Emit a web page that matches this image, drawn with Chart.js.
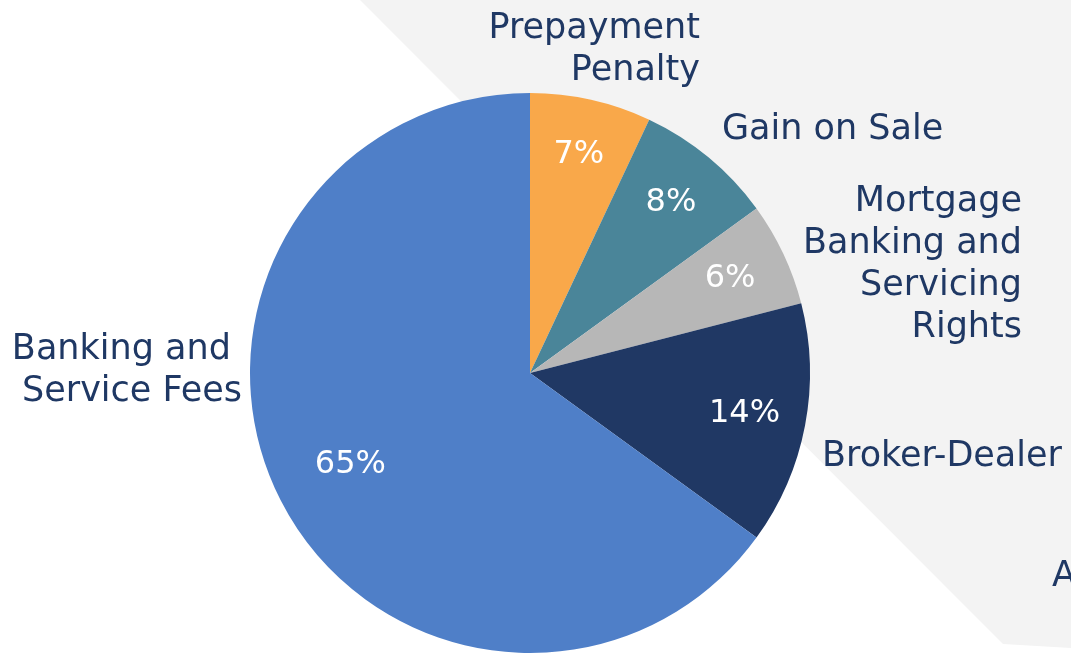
<!DOCTYPE html>
<html>
<head>
<meta charset="utf-8">
<title>Non-Interest Income Mix</title>
<script src="https://cdn.jsdelivr.net/npm/chart.js@4.4.1/dist/chart.umd.min.js"></script>
<style>
  html, body { margin: 0; padding: 0; background: #ffffff; }
  #wrap { position: relative; width: 1071px; height: 653px; }
  canvas { display: block; }
</style>
</head>
<body>
<div id="wrap"><canvas id="pie" width="1071" height="653"></canvas></div>
<script>
// Income sources, clockwise from 12 o'clock
const categories = [
  'Prepayment Penalty',
  'Gain on Sale',
  'Mortgage Banking and Servicing Rights',
  'Broker-Dealer',
  'Banking and Service Fees'
];
const shares = [7, 8, 6, 14, 65];
const sliceColors = ['#F9A84A', '#4A8599', '#B7B7B7', '#203864', '#4F7FC8'];

// Outer caption lines for each slice
const captionLines = [
  ['Prepayment', 'Penalty'],
  ['Gain on Sale'],
  ['Mortgage', 'Banking and', 'Servicing', 'Rights'],
  ['Broker-Dealer'],
  ['Banking and ', 'Service Fees']
];
// Caption anchor (x, first-line centre y) and alignment
const captionAnchor = [
  { x: 700, y: 29, align: 'right' },
  { x: 722, y: 130, align: 'left' },
  { x: 1022, y: 202, align: 'right' },
  { x: 822, y: 457, align: 'left' },
  { x: 242, y: 350, align: 'right' }
];
// Radial position of the percentage inside each slice (fraction of radius)
const valueRadius = [0.80, 0.79, 0.79, 0.78, 0.72];

const FONT = '"DejaVu Sans", Verdana, sans-serif';
const TEXT_NAVY = '#1F3864';

const backdrop = {
  id: 'backdrop',
  beforeDraw(chart) {
    const ctx = chart.ctx;
    ctx.save();
    ctx.fillStyle = '#ffffff';
    ctx.fillRect(0, 0, chart.width, chart.height);
    ctx.fillStyle = '#F3F3F3';
    ctx.beginPath();
    ctx.moveTo(360, 0);
    ctx.lineTo(chart.width, 0);
    ctx.lineTo(chart.width, chart.height - 5);
    ctx.lineTo(1003, chart.height - 9);
    ctx.closePath();
    ctx.fill();
    ctx.restore();
  }
};

const sliceText = {
  id: 'sliceText',
  afterDatasetsDraw(chart) {
    const ctx = chart.ctx;
    const meta = chart.getDatasetMeta(0);
    ctx.save();
    ctx.textBaseline = 'middle';
    ctx.font = '32px ' + FONT;
    ctx.fillStyle = '#ffffff';
    ctx.textAlign = 'center';
    meta.data.forEach((arc, i) => {
      const mid = (arc.startAngle + arc.endAngle) / 2;
      const r = arc.outerRadius * valueRadius[i];
      ctx.fillText(shares[i] + '%', arc.x + Math.cos(mid) * r, arc.y + Math.sin(mid) * r);
    });

    ctx.font = '35px ' + FONT;
    ctx.fillStyle = TEXT_NAVY;
    captionLines.forEach((lines, i) => {
      const a = captionAnchor[i];
      ctx.textAlign = a.align;
      lines.forEach((t, k) => ctx.fillText(t, a.x, a.y + k * 42));
    });
    // next caption, running off the right edge
    ctx.textAlign = 'left';
    ctx.fillText('A', 1052, 577);
    ctx.restore();
  }
};

new Chart(document.getElementById('pie'), {
  type: 'pie',
  data: {
    labels: categories,
    datasets: [{
      data: shares,
      backgroundColor: sliceColors,
      borderWidth: 0
    }]
  },
  options: {
    responsive: false,
    animation: false,
    rotation: 0,
    layout: { padding: { left: 250, right: 261, top: 93, bottom: 0 } },
    plugins: {
      legend: { display: false },
      tooltip: { enabled: false }
    }
  },
  plugins: [backdrop, sliceText]
});
</script>
</body>
</html>
